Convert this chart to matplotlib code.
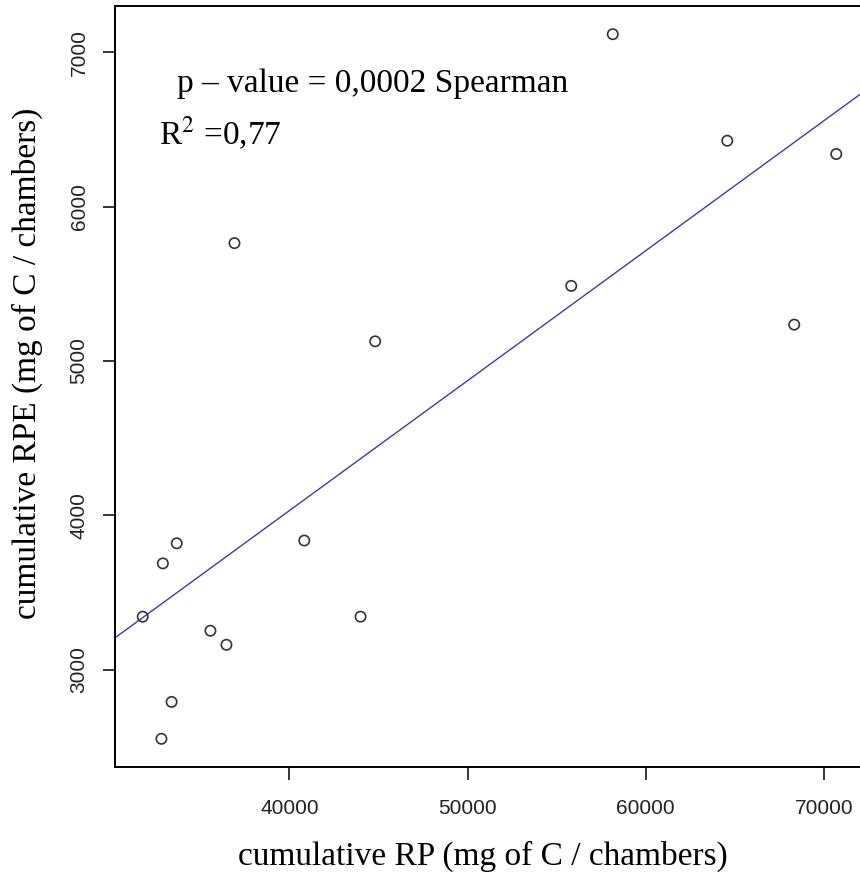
import numpy as np
import matplotlib
matplotlib.use("Agg")
import matplotlib.pyplot as plt

# cumulative RP / RPE per chamber
rp = [31760, 35560, 36460, 43990, 33380, 32810, 33670, 32890,
      40830, 55820, 58150, 36910, 44810, 64580, 70700, 68340]
rpe = [3344, 3253, 3162, 3344, 2792, 2553, 3819, 3689,
       3837, 5486, 7116, 5763, 5127, 6426, 6340, 5235]

x_ticks = [40000, 50000, 60000, 70000]
y_ticks = [3000, 4000, 5000, 6000, 7000]

serif = ["Liberation Serif", "DejaVu Serif"]

fig = plt.figure(figsize=(8.6, 8.9), dpi=100)
ax = fig.add_axes([115 / 860, 123 / 890, 749 / 860, 761 / 890])

ax.scatter(rp, rpe, s=55, facecolors="none", edgecolors="#333333", linewidths=1.2, zorder=3)

# linear fit
slope, intercept = np.polyfit(rp, rpe, 1)
xx = np.array([29000, 74000])
ax.plot(xx, slope * xx + intercept, color="#3c3ca8", lw=1.0)

# R-like 4% padding
xr = max(rp) - min(rp)
yr = max(rpe) - min(rpe)
ax.set_xlim(min(rp) - 0.04 * xr, max(rp) + 0.04 * xr)
ax.set_ylim(min(rpe) - 0.04 * yr, max(rpe) + 0.04 * yr)

ax.set_xticks(x_ticks)
ax.set_yticks(y_ticks)
ax.set_xticklabels([str(v) for v in x_ticks], fontsize=15, family="Liberation Sans", color="#222222")
ax.set_yticklabels([str(v) for v in y_ticks], fontsize=15, family="Liberation Sans", color="#222222",
                   rotation=90, va="center")
ax.tick_params(axis="both", length=9, width=1.1)
ax.tick_params(axis="x", pad=14)
ax.tick_params(axis="y", pad=10)

for s in ax.spines.values():
    s.set_linewidth(1.4)

ax.set_xlabel("cumulative RP (mg of C / chambers)", fontsize=24, family=serif, va="center")
ax.xaxis.set_label_coords(0.491, -0.118)
ax.set_ylabel("cumulative RPE (mg of C / chambers)", fontsize=24, family=serif, va="center")
ax.yaxis.set_label_coords(-0.117, 0.53)

ax.text(33700, 6794, "p \u2013 value = 0,0002 Spearman", fontsize=24, family=serif, va="center")
ax.text(32700, 6476, "R$^2$ =0,77", fontsize=24, family=serif, math_fontfamily="stix", va="center")

fig.savefig("out.png", dpi=100)
